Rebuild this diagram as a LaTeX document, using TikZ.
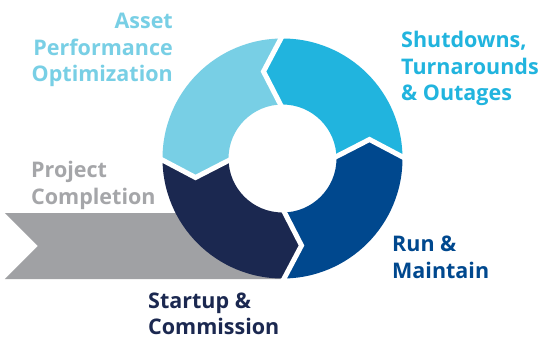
\documentclass[tikz,border=0pt]{standalone}
\usepackage{fontspec}
\setmainfont{Open Sans}
\definecolor{cLight}{HTML}{78CFE5}
\definecolor{cCyan}{HTML}{21B4DE}
\definecolor{cDark}{HTML}{00488E}
\definecolor{cNavy}{HTML}{1B2850}
\definecolor{cGray}{HTML}{A0A1A4}
\definecolor{cGrayText}{HTML}{A5A6A9}
\tikzset{
  lbl/.style={inner sep=0pt, font=\fontsize{21.5}{26.5}\selectfont\bfseries},
  gap/.style={white, line width=5pt, line join=miter},
}
\begin{document}
\begin{tikzpicture}[x=1pt,y=1pt]
\useasboundingbox (-282.5,-178.5) rectangle (260.5,158.5);
\fill[white] (-282.5,-178.5) rectangle (260.5,158.5);
% gray arrow band
\fill[cGray] (-277.5,-54.5) -- (-2,-54.5) -- (-2,-120.5) -- (-277.5,-120.5) -- (-244.5,-87.5) -- cycle;
% segments
\fill[cLight] (90:120) arc[start angle=90,end angle=180,radius=120] -- (-87,-19) -- (180:54) arc[start angle=180,end angle=90,radius=54] -- (-19,87) -- cycle;
\fill[cCyan] (0:120) arc[start angle=0,end angle=90,radius=120] -- (-19,87) -- (90:54) arc[start angle=90,end angle=0,radius=54] -- (87,19) -- cycle;
\fill[cDark] (-90:120) arc[start angle=-90,end angle=0,radius=120] -- (87,19) -- (0:54) arc[start angle=0,end angle=-90,radius=54] -- (19,-87) -- cycle;
\fill[cNavy] (180:120) arc[start angle=180,end angle=270,radius=120] -- (19,-87) -- (270:54) arc[start angle=270,end angle=180,radius=54] -- (-87,-19) -- cycle;
% white gaps
\draw[gap] (0,123) -- (-19,87) -- (0,50);
\draw[gap] (123,0) -- (87,19) -- (50,0);
\draw[gap] (0,-123) -- (19,-87) -- (0,-50);
\draw[gap] (-123,0) -- (-87,-19) -- (-50,0);
% labels (base anchor = baseline of last line)
\node[lbl, cLight, align=right, anchor=base east] (asset) at (-109.5,76.5) {Asset\\Performance\\Optimization};
\node[lbl, cCyan, align=left, anchor=base west] (shut) at (118.5,57.5) {Shutdowns,\\Turnarounds\\\& Outages};
\node[lbl, cDark, align=left, anchor=base west] (run) at (109.5,-119.5) {Run \&\\Maintain};
\node[lbl, cNavy, align=left, anchor=base west] (start) at (-134.5,-176) {Startup \&\\Commission};
\node[lbl, cGrayText, align=left, anchor=base west] (proj) at (-251.5,-45.5) {Project\\Completion};
\end{tikzpicture}
\end{document}
